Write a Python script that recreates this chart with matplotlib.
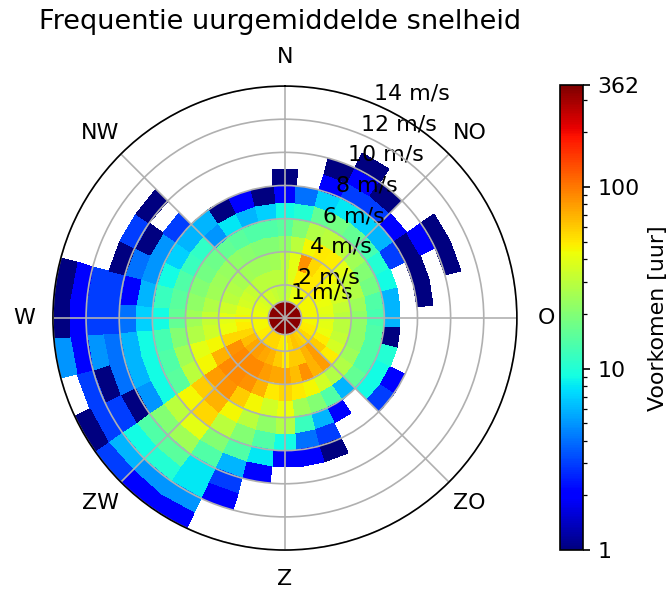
import numpy as np
import matplotlib
matplotlib.use("Agg")
import matplotlib.pyplot as plt
from matplotlib.colors import LogNorm

plt.rcParams["font.size"] = 10.6

# wind directions: bin centres every 10 degrees, clockwise from north
directions = list(range(0, 360, 10))
# speed bins of 1 m/s, from 0 up to 14 m/s
speed_edges = list(range(0, 15))

# hours per direction bin, one list per speed bin (0 = never observed)
v00_01 = [340, 345, 345, 345, 345, 345, 345, 345, 345, 345, 345, 345,
          345, 345, 345, 345, 345, 345, 345, 345, 345, 345, 362, 345,
          345, 345, 345, 345, 345, 345, 345, 345, 345, 345, 345, 345]
v01_02 = [28, 32, 40, 42, 45, 45, 45, 45, 45, 45, 45, 48,
          50, 55, 55, 60, 62, 55, 45, 50, 55, 55, 55, 50,
          48, 45, 45, 45, 42, 40, 38, 36, 35, 34, 32, 30]
v02_03 = [30, 38, 48, 50, 50, 48, 45, 42, 40, 38, 40, 42,
          48, 60, 80, 70, 60, 60, 50, 60, 70, 75, 80, 75,
          65, 55, 48, 45, 40, 36, 34, 32, 30, 30, 30, 30]
v03_04 = [30, 40, 85, 55, 50, 45, 40, 36, 32, 30, 30, 32,
          36, 48, 80, 70, 85, 65, 75, 75, 80, 90, 90, 90,
          85, 55, 42, 40, 34, 30, 28, 26, 25, 24, 24, 25]
v04_05 = [22, 30, 45, 50, 48, 40, 32, 28, 24, 22, 22, 22,
          24, 28, 28, 35, 45, 50, 55, 50, 70, 85, 90, 90,
          70, 45, 34, 32, 28, 25, 24, 23, 22, 21, 20, 20]
v05_06 = [15, 20, 28, 30, 30, 25, 20, 18, 14, 13, 14, 14,
          14, 16, 6, 14, 20, 25, 42, 35, 45, 60, 85, 80,
          45, 40, 28, 25, 22, 20, 18, 17, 16, 15, 14, 14]
v06_07 = [9, 10, 16, 18, 16, 13, 10, 9, 6, 6, 1, 10,
          9, 9, 0, 2, 6, 12, 28, 22, 30, 45, 70, 60,
          30, 25, 20, 16, 15, 14, 12, 11, 5, 8, 6, 7]
v07_08 = [2, 4, 7, 8, 7, 6, 3, 0, 0, 0, 0, 0,
          2, 3, 0, 0, 3, 4, 9, 14, 20, 30, 55, 45,
          15, 14, 13, 9, 12, 9, 7, 6, 6, 1, 2, 1]
v08_09 = [1, 0, 2, 3, 3, 2, 1, 1, 1, 0, 0, 0,
          0, 0, 0, 0, 1, 2, 2, 8, 14, 20, 40, 30,
          9, 9, 9, 7, 6, 5, 5, 3, 0, 0, 0, 0]
v09_10 = [0, 0, 1, 2, 1, 0, 2, 0, 0, 0, 0, 0,
          0, 0, 0, 0, 0, 0, 0, 2, 6, 14, 25, 20,
          5, 6, 6, 4, 2, 4, 1, 0, 0, 0, 0, 0]
v10_11 = [0, 0, 0, 1, 0, 0, 1, 1, 0, 0, 0, 0,
          0, 0, 0, 0, 0, 0, 0, 0, 3, 8, 15, 14,
          1, 4, 4, 3, 3, 1, 3, 1, 0, 0, 0, 0]
v11_12 = [0, 0, 0, 0, 0, 0, 0, 0, 0, 0, 0, 0,
          0, 0, 0, 0, 0, 0, 0, 0, 2, 8, 10, 9,
          3, 1, 5, 3, 3, 0, 0, 0, 0, 0, 0, 0]
v12_13 = [0, 0, 0, 0, 0, 0, 0, 0, 0, 0, 0, 0,
          0, 0, 0, 0, 0, 0, 0, 0, 0, 5, 5, 6,
          3, 3, 2, 2, 2, 0, 0, 0, 0, 0, 0, 0]
v13_14 = [0, 0, 0, 0, 0, 0, 0, 0, 0, 0, 0, 0,
          0, 0, 0, 0, 0, 0, 0, 0, 0, 2, 2, 3,
          1, 0, 5, 1, 1, 0, 0, 0, 0, 0, 0, 0]

speed_ticks = [1, 2, 4, 6, 8, 10, 12, 14]
compass = ["N", "NO", "O", "ZO", "Z", "ZW", "W", "NW"]
cbar_ticks = [1, 10, 100, 362]

hours = np.array([v00_01, v01_02, v02_03, v03_04, v04_05, v05_06, v06_07,
                  v07_08, v08_09, v09_10, v10_11, v11_12, v12_13, v13_14], dtype=float)
hours = np.ma.masked_equal(hours, 0)

# cell edges, each direction bin is 10 degrees wide around its centre
theta_edges = np.deg2rad(np.append(np.array(directions) - 5, 355))
r_edges = np.array(speed_edges)

fig = plt.figure(figsize=(670 / 150, 589 / 150), dpi=150)
ax = fig.add_axes([0.079, 0.066, 0.6925, 0.788], projection="polar")
ax.set_theta_zero_location("N")
ax.set_theta_direction(-1)

mesh = ax.pcolormesh(theta_edges, r_edges, hours, cmap="jet",
                     norm=LogNorm(vmin=1, vmax=362), shading="flat")

ax.set_ylim(0, 14)
ax.set_rticks(speed_ticks)
ax.set_yticklabels([f"{s} m/s" for s in speed_ticks])
ax.set_thetagrids(range(0, 360, 45), compass)
ax.grid(True)

fig.text(0.418, 0.963, "Frequentie uurgemiddelde snelheid",
         ha="center", va="center", fontsize=13)

cax = fig.add_axes([0.836, 0.066, 0.034, 0.789])
cb = fig.colorbar(mesh, cax=cax)
cb.set_ticks(cbar_ticks)
cb.set_ticklabels([str(t) for t in cbar_ticks])
cb.set_label("Voorkomen [uur]")

fig.savefig("out.png", dpi=150)
